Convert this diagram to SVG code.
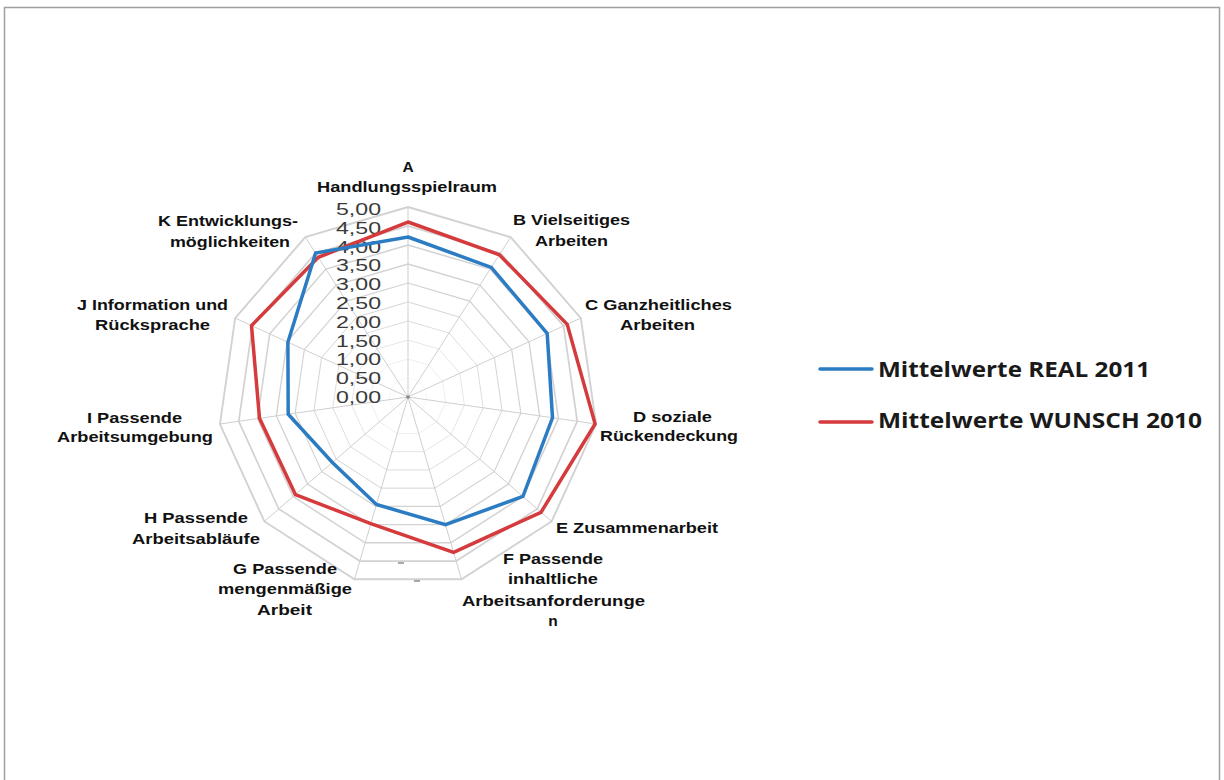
<svg xmlns="http://www.w3.org/2000/svg" width="1224" height="780" viewBox="0 0 1224 780">
<style>
.ring{fill:none;stroke:#d2d2d2;stroke-width:1;vector-effect:non-scaling-stroke}
.spoke{stroke:#cfcfcf;stroke-width:1}
.tick{font-family:"Liberation Sans",Arial,sans-serif;font-size:16.5px;fill:#3a3a3a;text-anchor:end}
.cat{font-family:"Liberation Sans",Arial,sans-serif;font-size:15.5px;font-weight:bold;fill:#111;text-anchor:middle}
.leg{font-family:"Open Sans","Liberation Sans",sans-serif;font-size:22px;font-weight:bold;fill:#1a1a1a}
.real{fill:none;stroke:#2b7cc2;stroke-width:3.5;stroke-linejoin:miter}
.wunsch{fill:none;stroke:#d53a3c;stroke-width:3.5;stroke-linejoin:miter}
</style>
<defs>
<polygon id="unit" points="0,-100 54.06,-84.13 90.96,-41.54 98.98,14.23 75.57,65.49 28.17,95.95 -28.17,95.95 -75.57,65.49 -98.98,14.23 -90.96,-41.54 -54.06,-84.13"/>
</defs>
<rect x="0" y="0" width="1224" height="780" fill="#ffffff"/>
<path d="M4.5 780 V7.5 H1219.5 V780" fill="none" stroke="#a0a0a0" stroke-width="1.5"/>

<g id="grid">
<g transform="translate(408,397)">
<use href="#unit" class="ring" transform="scale(0.19)"/>
<use href="#unit" class="ring" transform="scale(0.38)"/>
<use href="#unit" class="ring" transform="scale(0.57)"/>
<use href="#unit" class="ring" transform="scale(0.76)"/>
<use href="#unit" class="ring" transform="scale(0.95)"/>
<use href="#unit" class="ring" transform="scale(1.14)"/>
<use href="#unit" class="ring" transform="scale(1.33)"/>
<use href="#unit" class="ring" transform="scale(1.52)"/>
<use href="#unit" class="ring" transform="scale(1.71)"/>
<use href="#unit" class="ring" transform="scale(1.90)"/>
<line class="spoke" x1="0" y1="0" x2="0" y2="-190" stroke="#b8b8b8"/>
<line class="spoke" x1="0" y1="0" x2="102.7" y2="-159.8"/>
<line class="spoke" x1="0" y1="0" x2="172.8" y2="-78.9"/>
<line class="spoke" x1="0" y1="0" x2="188.1" y2="27.0"/>
<line class="spoke" x1="0" y1="0" x2="143.6" y2="124.4"/>
<line class="spoke" x1="0" y1="0" x2="53.5" y2="182.3"/>
<line class="spoke" x1="0" y1="0" x2="-53.5" y2="182.3"/>
<line class="spoke" x1="0" y1="0" x2="-143.6" y2="124.4"/>
<line class="spoke" x1="0" y1="0" x2="-188.1" y2="27.0"/>
<line class="spoke" x1="0" y1="0" x2="-172.8" y2="-78.9"/>
<line class="spoke" x1="0" y1="0" x2="-102.7" y2="-159.8"/>
<circle cx="0" cy="0" r="1.8" fill="#888"/>
</g>
<line x1="398" y1="563" x2="404" y2="563" stroke="#555" stroke-width="1"/>
<line x1="414" y1="581" x2="420" y2="581" stroke="#555" stroke-width="1"/>
</g>

<g id="axis-labels">
<text class="tick" x="381" y="215" textLength="45" lengthAdjust="spacingAndGlyphs">5,00</text>
<text class="tick" x="381" y="233.8" textLength="45" lengthAdjust="spacingAndGlyphs">4,50</text>
<text class="tick" x="381" y="252.6" textLength="45" lengthAdjust="spacingAndGlyphs">4,00</text>
<text class="tick" x="381" y="271.4" textLength="45" lengthAdjust="spacingAndGlyphs">3,50</text>
<text class="tick" x="381" y="290.2" textLength="45" lengthAdjust="spacingAndGlyphs">3,00</text>
<text class="tick" x="381" y="309" textLength="45" lengthAdjust="spacingAndGlyphs">2,50</text>
<text class="tick" x="381" y="327.8" textLength="45" lengthAdjust="spacingAndGlyphs">2,00</text>
<text class="tick" x="381" y="346.6" textLength="45" lengthAdjust="spacingAndGlyphs">1,50</text>
<text class="tick" x="381" y="365.4" textLength="45" lengthAdjust="spacingAndGlyphs">1,00</text>
<text class="tick" x="381" y="384.2" textLength="45" lengthAdjust="spacingAndGlyphs">0,50</text>
<text class="tick" x="381" y="403" textLength="45" lengthAdjust="spacingAndGlyphs">0,00</text>
</g>

<g id="series">
<polygon id="series-wunsch" class="wunsch" points="408,222 499.4,254.8 567.2,324.3 595.1,423.9 541,512.3 453.6,552.4 370.8,523.7 295.4,494.6 259.5,418.3 251.5,325.6 318.3,257.3"/>
<polygon id="series-real" class="real" points="408,237 491.3,267.4 547.2,333.4 552.5,417.8 522.9,496.5 445.5,524.6 376.4,504.5 332.4,462.5 288.2,414.2 287.9,342.2 315.6,253.1"/>
</g>

<g id="label-A">
<text class="cat" x="408" y="172">A</text>
<text class="cat" x="407" y="192" textLength="180" lengthAdjust="spacingAndGlyphs">Handlungsspielraum</text>
</g>
<g id="label-B">
<text class="cat" x="571.5" y="225" textLength="117" lengthAdjust="spacingAndGlyphs">B Vielseitiges</text>
<text class="cat" x="571.5" y="246" textLength="73" lengthAdjust="spacingAndGlyphs">Arbeiten</text>
</g>
<g id="label-C">
<text class="cat" x="658.5" y="310" textLength="147" lengthAdjust="spacingAndGlyphs">C Ganzheitliches</text>
<text class="cat" x="657.5" y="330" textLength="75" lengthAdjust="spacingAndGlyphs">Arbeiten</text>
</g>
<g id="label-D">
<text class="cat" x="672.5" y="422" textLength="79" lengthAdjust="spacingAndGlyphs">D soziale</text>
<text class="cat" x="669" y="441" textLength="138" lengthAdjust="spacingAndGlyphs">Rückendeckung</text>
</g>
<g id="label-E">
<text class="cat" x="637" y="533" textLength="162" lengthAdjust="spacingAndGlyphs">E Zusammenarbeit</text>
</g>
<g id="label-F">
<text class="cat" x="553" y="564" textLength="100" lengthAdjust="spacingAndGlyphs">F Passende</text>
<text class="cat" x="553" y="584" textLength="90" lengthAdjust="spacingAndGlyphs">inhaltliche</text>
<text class="cat" x="553.5" y="606" textLength="183" lengthAdjust="spacingAndGlyphs">Arbeitsanforderunge</text>
<text class="cat" x="553" y="626">n</text>
</g>
<g id="label-G">
<text class="cat" x="285" y="574" textLength="104" lengthAdjust="spacingAndGlyphs">G Passende</text>
<text class="cat" x="285" y="594" textLength="134" lengthAdjust="spacingAndGlyphs">mengenmäßige</text>
<text class="cat" x="284.5" y="615" textLength="55" lengthAdjust="spacingAndGlyphs">Arbeit</text>
</g>
<g id="label-H">
<text class="cat" x="196" y="523" textLength="104" lengthAdjust="spacingAndGlyphs">H Passende</text>
<text class="cat" x="196" y="544" textLength="128" lengthAdjust="spacingAndGlyphs">Arbeitsabläufe</text>
</g>
<g id="label-I">
<text class="cat" x="134.5" y="423" textLength="95" lengthAdjust="spacingAndGlyphs">I Passende</text>
<text class="cat" x="135" y="442" textLength="156" lengthAdjust="spacingAndGlyphs">Arbeitsumgebung</text>
</g>
<g id="label-J">
<text class="cat" x="152.5" y="310" textLength="151" lengthAdjust="spacingAndGlyphs">J Information und</text>
<text class="cat" x="152.5" y="330" textLength="115" lengthAdjust="spacingAndGlyphs">Rücksprache</text>
</g>
<g id="label-K">
<text class="cat" x="228" y="226" textLength="140" lengthAdjust="spacingAndGlyphs">K Entwicklungs-</text>
<text class="cat" x="230" y="247" textLength="120" lengthAdjust="spacingAndGlyphs">möglichkeiten</text>
</g>

<g id="legend">
<line x1="820" y1="369" x2="872" y2="369" stroke="#2b7cc2" stroke-width="3.5" stroke-linecap="round"/>
<text class="leg" x="878" y="377" textLength="272" lengthAdjust="spacingAndGlyphs">Mittelwerte REAL 2011</text>
<line x1="820" y1="422" x2="872" y2="422" stroke="#d53a3c" stroke-width="3.5" stroke-linecap="round"/>
<text class="leg" x="878" y="428" textLength="324" lengthAdjust="spacingAndGlyphs">Mittelwerte WUNSCH 2010</text>
</g>
</svg>
